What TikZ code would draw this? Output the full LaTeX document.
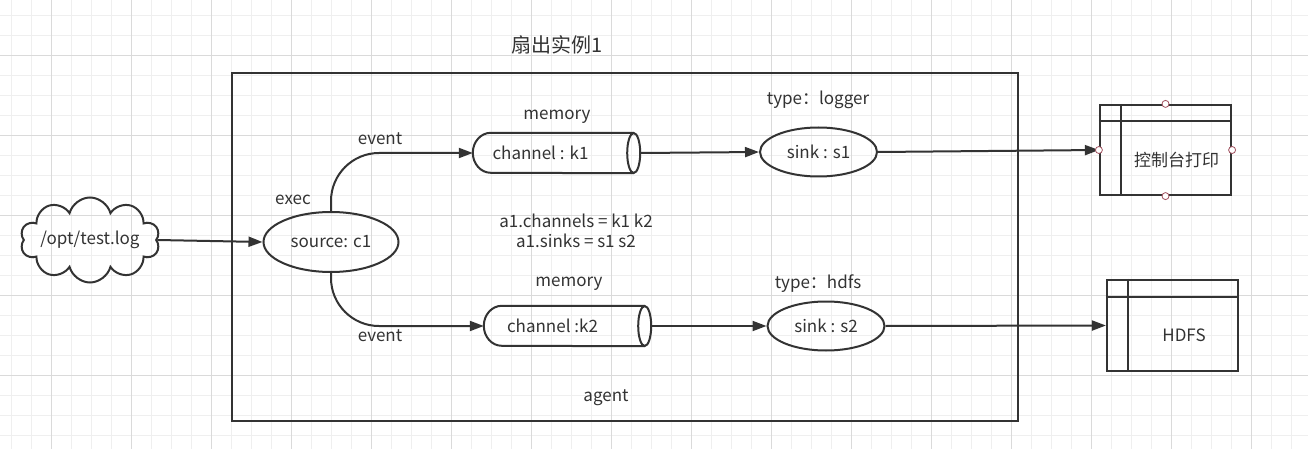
\documentclass[tikz,border=0pt]{standalone}
\usepackage{fontspec}
\setmainfont{Noto Sans CJK SC}
\usetikzlibrary{arrows.meta,shapes.geometric,shapes.symbols,positioning}

\definecolor{ink}{HTML}{333333}
\definecolor{gridminor}{HTML}{EFEFEF}
\definecolor{gridmajor}{HTML}{DADADA}
\definecolor{handle}{HTML}{A0505E}

\tikzset{
  txt/.style={text=ink,font=\fontsize{17}{19}\selectfont,inner sep=0pt},
  flow/.style={draw=ink,line width=2pt,-{Triangle[length=14pt,width=10pt]}},
  srcnode/.style={ellipse,draw=ink,line width=2pt,txt,minimum width=135,minimum height=60},
  sinknode/.style={ellipse,draw=ink,line width=2pt,txt,minimum width=117,minimum height=49},
  chan/.style={rectangle,txt,minimum width=167,minimum height=40},
  chanline/.style={draw=ink,line width=2pt},
  logcloud/.style={cloud,cloud puffs=10,cloud ignores aspect,draw=ink,line width=2pt,txt,
    minimum width=138,minimum height=85},
  store/.style={rectangle,draw=ink,line width=2.2pt,minimum width=131,minimum height=90},
  handledot/.style={draw=handle,fill=white,line width=0.8pt},
}

\begin{document}
\begin{tikzpicture}[x=1pt,y=-1pt]
\useasboundingbox (0,0) rectangle (1308,449);
\fill[white] (0,0) rectangle (1308,449);
% grid
\foreach \k in {0,...,65} \draw[gridminor,line width=0.8pt] ({11.7+20*\k},0) -- ++(0,449);
\foreach \k in {0,...,22} \draw[gridminor,line width=0.8pt] (0,{15+20*\k}) -- ++(1308,0);
\foreach \k in {0,...,16} \draw[gridmajor,line width=0.8pt] ({51.7+80*\k},0) -- ++(0,449);
\foreach \k in {0,...,4} \draw[gridmajor,line width=0.8pt] (0,{55+80*\k}) -- ++(1308,0);

\node[txt,font=\fontsize{20}{23}\selectfont] (title) at (557,45) {扇出实例1};
\draw[ink,line width=2.5pt] (232,73) rectangle (1018,421);

\node[logcloud] (log) at (90,240) {/opt/test.log};
\node[srcnode] (src) at (331,242) {source: c1};
\node[chan,label={[txt,xshift=-16pt]center:channel : k1}] (k1) at (556.5,153) {};
\node[chan,label={[txt,xshift=-15pt]center:channel :k2}] (k2) at (567.5,326) {};
\foreach \c in {k1,k2} {
  \draw[chanline] ([xshift=-6.5pt]\c.north east) -- ([xshift=18pt]\c.north west)
    arc[start angle=90,end angle=270,x radius=18pt,y radius=20pt] -- ([xshift=-6.5pt]\c.south east);
  \draw[chanline] ([xshift=-6.5pt]\c.east) ellipse [x radius=6.5pt,y radius=20pt];
}
\node[sinknode] (s1) at (818.5,152) {sink : s1};
\node[sinknode] (s2) at (826,326) {sink : s2};

\node[store] (con) at (1165.5,150) {};
\draw[ink,line width=2.2pt] ([xshift=22pt]con.north west) -- ([xshift=22pt]con.south west);
\draw[ink,line width=2.2pt] ([yshift=-17pt]con.north west) -- ([yshift=-17pt]con.north east);
\node[txt] (contxt) at ([shift={(11,10)}]con.center) {控制台打印};
\node[store,minimum height=91] (hdfs) at (1172.5,325.5) {};
\draw[ink,line width=2.2pt] ([xshift=22pt]hdfs.north west) -- ([xshift=22pt]hdfs.south west);
\draw[ink,line width=2.2pt] ([yshift=-18pt]hdfs.north west) -- ([yshift=-18pt]hdfs.north east);
\node[txt] (hdfstxt) at ([shift={(11.5,9.5)}]hdfs.center) {HDFS};

% labels
\node[txt] (exec) at (293,200) {exec};
\node[txt] (ev1) at (380,139) {event};
\node[txt] (ev2) at (380,336) {event};
\node[txt] (mem1) at (557,117) {memory};
\node[txt] (mem2) at (569,284) {memory};
\node[txt] (t1) at (818,100) {type：logger};
\node[txt] (t2) at (818,284) {type：hdfs};
\node[txt] (cfg1) at (576,221) {a1.channels = k1 k2};
\node[txt] (cfg2) at (576,241) {a1.sinks = s1 s2};
\node[txt] (agent) at (606,398) {agent};

% flows
\draw[flow] (log.east) -- (src.west);
\draw[flow,rounded corners=48pt] (src.north) |- (k1.west);
\draw[flow,rounded corners=48pt] (src.south) |- (k2.west);
\draw[flow] (k1.east) -- (s1.west);
\draw[flow] (k2.east) -- (s2.west);
\draw[flow] (s1.east) -- (con.west);
\draw[flow] (s2.east) -- (hdfs.west);

\foreach \a in {north,east,south,west} \draw[handledot] (con.\a) circle (3.5pt);
\end{tikzpicture}
\end{document}
